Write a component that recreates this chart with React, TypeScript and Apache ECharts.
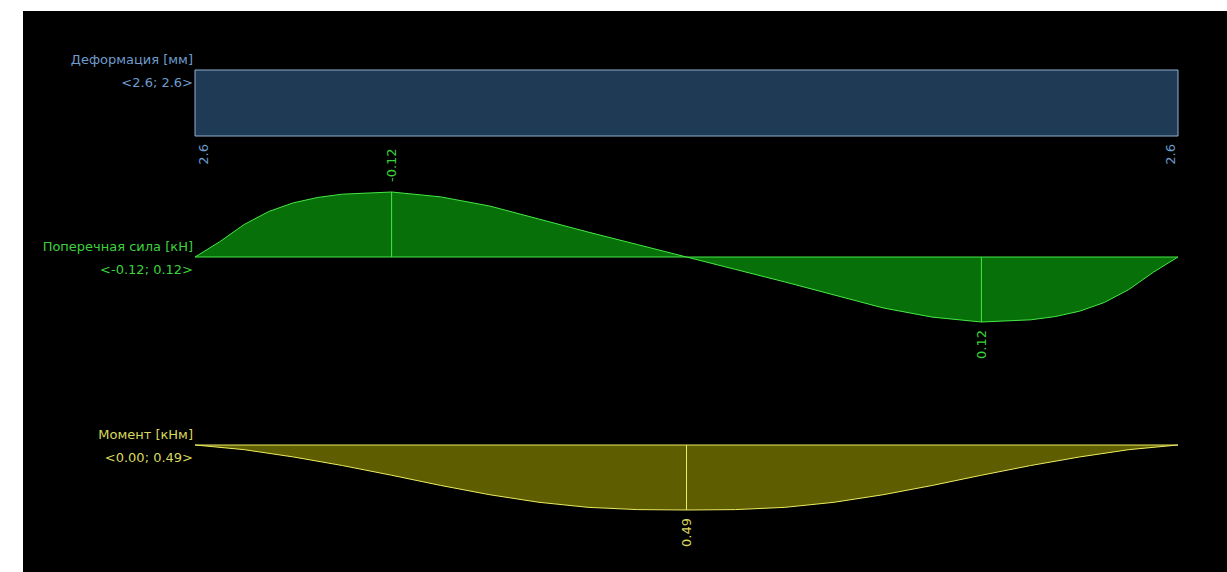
import React, { useEffect, useRef } from "react";
import * as echarts from "echarts";

// Positions along the beam (fraction of span length)
const DEF_POS = [0, 1];
const DEF_VAL = [2.6, 2.6];

const SHEAR_POS = [0, 0.025, 0.05, 0.075, 0.1, 0.125, 0.15, 0.2, 0.25, 0.3, 0.35, 0.4, 0.45, 0.5,
  0.55, 0.6, 0.65, 0.7, 0.75, 0.8, 0.85, 0.875, 0.9, 0.925, 0.95, 0.975, 1];
const SHEAR_VAL = [0, -0.028, -0.06, -0.084, -0.1, -0.11, -0.116, -0.12, -0.111, -0.094, -0.07, -0.046, -0.023, 0,
  0.023, 0.046, 0.07, 0.094, 0.111, 0.12, 0.116, 0.11, 0.1, 0.084, 0.06, 0.028, 0];

const MOM_POS = [0, 0.05, 0.1, 0.15, 0.2, 0.25, 0.3, 0.35, 0.4, 0.45, 0.5,
  0.55, 0.6, 0.65, 0.7, 0.75, 0.8, 0.85, 0.9, 0.95, 1];
const MOM_VAL = [0, 0.035, 0.09, 0.155, 0.228, 0.305, 0.375, 0.432, 0.47, 0.487, 0.49,
  0.487, 0.47, 0.432, 0.375, 0.305, 0.228, 0.155, 0.09, 0.035, 0];

const TITLES = ["Деформация [мм]", "Поперечная сила [кН]", "Момент [кНм]"];
const RANGES = ["<2.6; 2.6>", "<-0.12; 0.12>", "<0.00; 0.49>"];
const DECIMALS = [1, 2, 2];

const FONT = "DejaVu Sans";

type Diagram = {
  pos: number[];
  val: number[];
  marks: number[];
  min: number;
  max: number;
  line: string;
  fill: string;
  text: string;
  top: number;
  height: number;
};

function argMin(a: number[]) { let k = 0; a.forEach((v, i) => { if (v < a[k]) k = i; }); return k; }
function argMax(a: number[]) { let k = 0; a.forEach((v, i) => { if (v > a[k]) k = i; }); return k; }

const DIAGRAMS: Diagram[] = [
  { pos: DEF_POS, val: DEF_VAL, marks: [0, DEF_POS.length - 1], min: 0, max: 2.6,
    line: "#8fb0d0", fill: "#1e3a54", text: "#6e9ccc", top: 70, height: 66 },
  { pos: SHEAR_POS, val: SHEAR_VAL, marks: [argMin(SHEAR_VAL), argMax(SHEAR_VAL)], min: -0.12, max: 0.12,
    line: "#45e845", fill: "#087008", text: "#3cd23c", top: 192, height: 130 },
  { pos: MOM_POS, val: MOM_VAL, marks: [argMax(MOM_VAL)], min: 0, max: 0.49,
    line: "#ecec62", fill: "#5e5e00", text: "#d8d85c", top: 445, height: 65 },
];

export default function App() {
  const ref = useRef<HTMLDivElement>(null);
  useEffect(() => {
    if (!ref.current) return;
    const chart = echarts.init(ref.current, undefined, { renderer: "svg" });
    const grids = DIAGRAMS.map((d) => ({ left: 195, right: 49, top: d.top, height: d.height, containLabel: false }));
    const xAxes = DIAGRAMS.map((_, i) => ({ type: "value", gridIndex: i, min: 0, max: 1, show: false }));
    const yAxes = DIAGRAMS.map((d, i) => ({ type: "value", gridIndex: i, min: d.min, max: d.max, inverse: true, show: false }));
    const series: any[] = [];
    DIAGRAMS.forEach((d, i) => {
      const first = d.pos[0];
      const last = d.pos[d.pos.length - 1];
      series.push({
        type: "line", xAxisIndex: i, yAxisIndex: i, symbol: "none", clip: false, silent: true,
        data: d.pos.map((p, k) => [p, d.val[k]]),
        lineStyle: { color: d.line, width: 1 },
        areaStyle: { color: d.fill, opacity: 1 },
        z: 2,
      });
      series.push({
        type: "line", xAxisIndex: i, yAxisIndex: i, symbol: "none", clip: false, silent: true,
        data: [[first, 0], [last, 0]],
        lineStyle: { color: d.line, width: 1 }, z: 3,
      });
      d.marks.forEach((k) => {
        series.push({
          type: "line", xAxisIndex: i, yAxisIndex: i, symbol: "none", clip: false, silent: true,
          data: [[d.pos[k], 0], [d.pos[k], d.val[k]]],
          lineStyle: { color: d.line, width: 1 }, z: 3,
        });
      });
    });

    const bg = { id: "bg", type: "rect", z: -10, shape: { x: 23, y: 11, width: 1204, height: 561 }, style: { fill: "#000" } };
    chart.setOption({
      animation: false,
      backgroundColor: "#ffffff",
      grid: grids,
      xAxis: xAxes,
      yAxis: yAxes,
      series,
      graphic: [bg],
    });

    const graphics: any[] = [bg];
    DIAGRAMS.forEach((d, i) => {
      const base = chart.convertToPixel({ gridIndex: i } as any, [d.pos[0], 0]) as number[];
      graphics.push({
        id: "title" + i, type: "text", x: base[0] - 2, y: base[1] - 11,
        style: { text: TITLES[i], fill: d.text, fontFamily: FONT, fontSize: 13, align: "right", verticalAlign: "middle" },
      });
      graphics.push({
        id: "range" + i, type: "text", x: base[0] - 2, y: base[1] + 12,
        style: { text: RANGES[i], fill: d.text, fontFamily: FONT, fontSize: 13, align: "right", verticalAlign: "middle" },
      });
      const first = d.pos[0];
      const last = d.pos[d.pos.length - 1];
      d.marks.forEach((k, j) => {
        const p = chart.convertToPixel({ gridIndex: i } as any, [d.pos[k], d.val[k]]) as number[];
        let dx = 0;
        if (d.pos[k] === first && d.marks.length > 1 && i === 0) dx = 8;
        if (d.pos[k] === last && d.marks.length > 1 && i === 0) dx = -8;
        const up = d.val[k] < 0;
        graphics.push({
          id: "mark" + i + "_" + j, type: "text", x: p[0] + dx, y: up ? p[1] - 10 : p[1] + 8,
          rotation: Math.PI / 2,
          style: {
            text: d.val[k].toFixed(DECIMALS[i]), fill: d.text, fontFamily: FONT, fontSize: 13,
            align: up ? "left" : "right", verticalAlign: "middle",
          },
        });
      });
    });
    chart.setOption({ graphic: graphics });
    return () => chart.dispose();
  }, []);
  return <div ref={ref} style={{ position: "absolute", left: 0, top: 0, width: 1227, height: 572 }} />;
}
